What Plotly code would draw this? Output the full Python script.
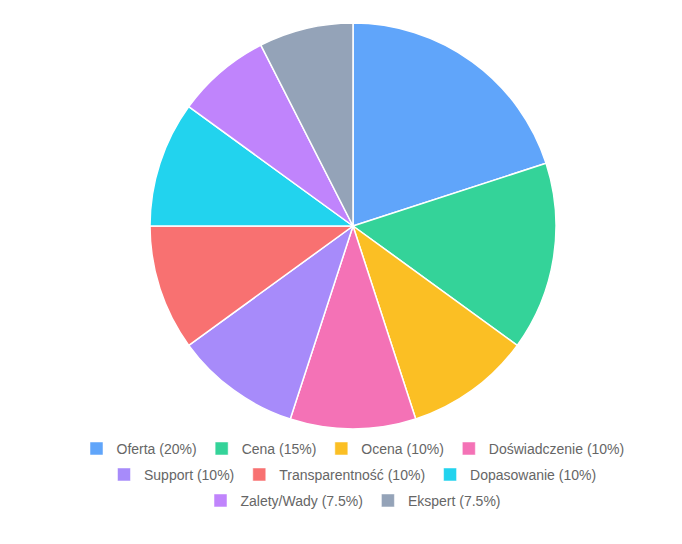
import plotly.graph_objects as go

# slice data, clockwise from 12 o'clock
labels = ["Oferta", "Cena", "Ocena", "Doświadczenie", "Support",
          "Transparentność", "Dopasowanie", "Zalety/Wady", "Ekspert"]
shares = [20, 15, 10, 10, 10, 10, 10, 7.5, 7.5]
colors = ["#60a5fa", "#34d399", "#fbbf24", "#f472b6", "#a78bfa",
          "#f87171", "#22d3ee", "#c084fc", "#94a3b8"]
# which legend row each entry goes in
legend_rows = ["legend", "legend", "legend", "legend",
               "legend2", "legend2", "legend2",
               "legend3", "legend3"]


def fmt(v):
    return f"{v:g}%"


fig = go.Figure()
fig.add_trace(go.Pie(
    labels=labels,
    values=shares,
    sort=False,
    direction="clockwise",
    rotation=0,
    marker=dict(colors=colors, line=dict(color="white", width=1.5)),
    textinfo="none",
    hovertemplate="%{label}: %{value}%<extra></extra>",
    showlegend=False,
))

# legend entries (chart.js style rows) - empty traces just for the swatches
for lab, val, col, lg in zip(labels, shares, colors, legend_rows):
    fig.add_trace(go.Scatter(
        x=[None], y=[None],
        mode="markers",
        name=f"{lab} ({fmt(val)})",
        marker=dict(symbol="square", size=13, color=col,
                    line=dict(color="rgba(255,255,255,0.5)", width=1)),
        legend=lg,
        showlegend=True,
    ))

legend_font = dict(family="Arial, Liberation Sans, sans-serif", size=14, color="#666666")
row_style = dict(orientation="h", x=0.5, xanchor="center", yanchor="middle",
                 font=legend_font, bgcolor="rgba(0,0,0,0)", itemclick=False,
                 itemdoubleclick=False)

# page body has an 8px margin, so the figure is a bit smaller and shifted
fig.update_layout(
    width=674,
    height=536,
    margin=dict(l=16, r=0, t=15, b=115),
    paper_bgcolor="white",
    plot_bgcolor="white",
    xaxis=dict(visible=False),
    yaxis=dict(visible=False),
    legend=dict(y=-0.049, **row_style),
    legend2=dict(y=-0.113, **row_style),
    legend3=dict(y=-0.177, **row_style),
)

fig.write_html("out.html")
